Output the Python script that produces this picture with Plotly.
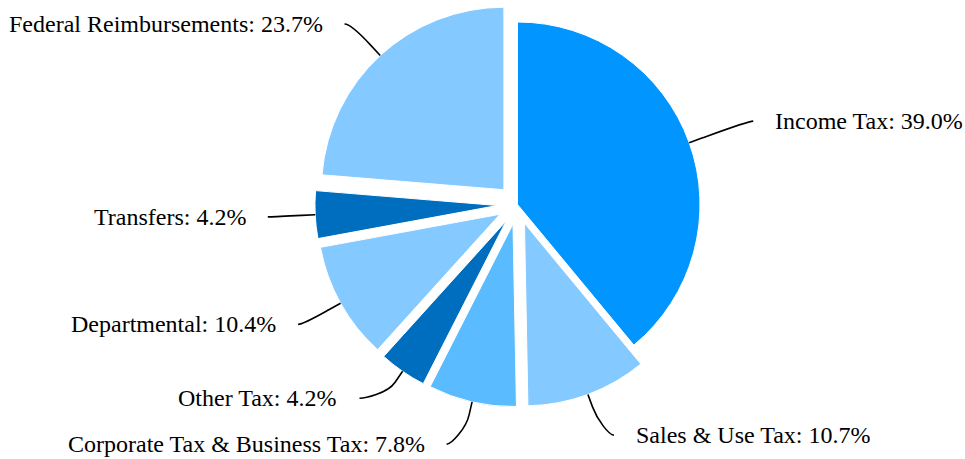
import math
import plotly.graph_objects as go

# ---- data ----
categories = ["Income Tax", "Sales & Use Tax", "Corporate Tax & Business Tax",
              "Other Tax", "Departmental", "Transfers", "Federal Reimbursements"]
shares = [39.0, 10.7, 7.8, 4.2, 10.4, 4.2, 23.7]
slice_colors = ["#0095FF", "#84C9FF", "#5BBBFF", "#006EBF", "#84C9FF", "#006EBF", "#84C9FF"]
sliced = [False, True, True, True, True, True, True]

# ---- layout constants (pixels) ----
W, H = 965, 459
CX, CY = 517.5, 204.5      # pie centre
R = 182.5                  # pie radius
PULL = 0.11                # slice offset as fraction of radius
LABEL_RX = 250             # label circle radius (x)
LABEL_RY = 246             # label natural radius (y)
SPACING = 46               # min vertical distance between labels
YMIN, YMAX = 24, 445
GAP = 20                   # connector end -> text
FONT_SIZE = 24
FONT = "Liberation Serif, Times New Roman, serif"

# Times-like glyph widths (per em) for overflow estimation
_w = {' ': .25, '%': .833, '&': .778, '.': .25, ':': .278, 'B': .667, 'C': .667, 'D': .722,
      'F': .556, 'I': .333, 'O': .722, 'R': .667, 'S': .556, 'T': .611, 'U': .722, 'a': .444,
      'b': .5, 'c': .444, 'd': .5, 'e': .444, 'f': .333, 'h': .5, 'i': .278, 'l': .278,
      'm': .778, 'n': .5, 'o': .5, 'p': .5, 'r': .333, 's': .389, 't': .278, 'u': .5, 'x': .5}


def text_width(s):
    return sum(_w.get(ch, .5) for ch in s) * FONT_SIZE


def px(x):
    return x / W


def py(y):
    return 1 - y / H


total = sum(shares)
pulls = [PULL if s else 0 for s in sliced]

labels = []
cum = 0.0
for cat, v, pl in zip(categories, shares, pulls):
    mid = (cum + v / 2) / total * 2 * math.pi
    cum += v
    dx, dy = math.sin(mid), -math.cos(mid)
    off = pl * R
    tx, ty = CX + dx * (off + R), CY + dy * (off + R)
    conn_off = min(15, (LABEL_RX - R) / 5)
    bx, by = tx + dx * conn_off, ty + dy * conn_off
    labels.append(dict(text=f"{cat}: {v:.1f}%", left=dx < 0,
                       ny=CY + dy * LABEL_RY, tx=tx, ty=ty, bx=bx, by=by))

# distribute labels on each side
for side in (True, False):
    grp = sorted([l for l in labels if l["left"] == side], key=lambda l: -l["ny"])
    prev = None
    for l in grp:
        y = min(l["ny"], YMAX)
        if prev is not None:
            y = min(y, prev - SPACING)
        l["y"] = y
        prev = y
    prev = None
    for l in reversed(grp):
        y = max(l["y"], YMIN)
        if prev is not None:
            y = max(y, prev + SPACING)
        l["y"] = y
        prev = y

annotations, shapes = [], []
for l in labels:
    y = l["y"]
    dyc = y - CY
    xr = math.sqrt(max(LABEL_RX ** 2 - dyc ** 2, 0))
    if l["left"]:
        xl = CX - xr
        xt = max(xl - GAP, 6 + text_width(l["text"]))
        anchor = "right"
        c1x = xl + 5
    else:
        xl = CX + xr
        xt = min(xl + GAP, W - 2 - text_width(l["text"]))
        anchor = "left"
        c1x = xl - 5
    c2x, c2y = 2 * l["bx"] - l["tx"], 2 * l["by"] - l["ty"]
    path = (f"M {px(xl)},{py(y)} C {px(c1x)},{py(y)} {px(c2x)},{py(c2y)} "
            f"{px(l['bx'])},{py(l['by'])} L {px(l['tx'])},{py(l['ty'])}")
    shapes.append(dict(type="path", xref="paper", yref="paper", path=path,
                       line=dict(color="#000000", width=1.6)))
    annotations.append(dict(x=px(xt), y=py(y), xref="paper", yref="paper",
                            text=l["text"], showarrow=False, xanchor=anchor,
                            yanchor="middle",
                            font=dict(family=FONT, size=FONT_SIZE, color="#000000")))

half = R * (1 + PULL)
fig = go.Figure(go.Pie(
    labels=categories, values=shares, sort=False, direction="clockwise", rotation=0,
    pull=pulls, textinfo="none", hoverinfo="label+percent",
    marker=dict(colors=slice_colors, line=dict(color="#ffffff", width=1)),
    domain=dict(x=[(CX - half) / W, (CX + half) / W],
                y=[1 - (CY + half) / H, 1 - (CY - half) / H]),
    showlegend=False,
))
fig.update_layout(width=W, height=H, margin=dict(l=0, r=0, t=0, b=0),
                  paper_bgcolor="white", plot_bgcolor="white",
                  annotations=annotations, shapes=shapes)
fig.write_html("out.html", config={"displayModeBar": False},
               post_script="document.body.style.margin='0';")
